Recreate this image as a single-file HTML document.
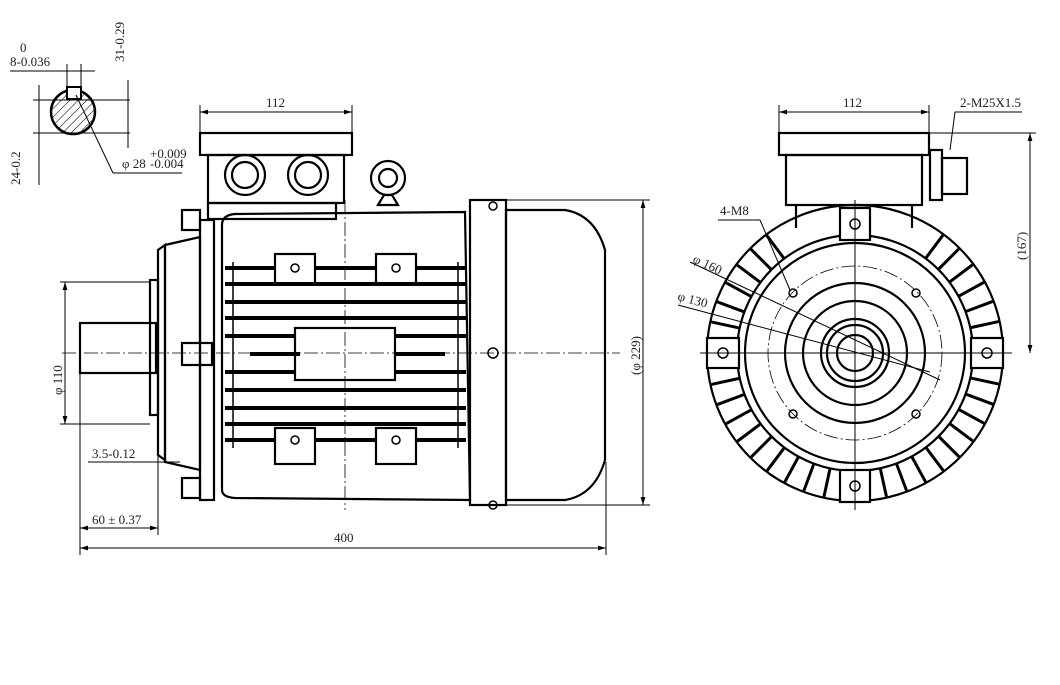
<!DOCTYPE html>
<html><head><meta charset="utf-8"><style>
html,body{margin:0;padding:0;background:#fff;}
svg{display:block;font-family:"Liberation Serif",serif;}
text{font-size:13px;fill:#222;}
</style></head><body>
<svg id="s" width="1060" height="685" viewBox="0 0 1060 685" xmlns="http://www.w3.org/2000/svg">
<defs>
<pattern id="h" width="6" height="6" patternUnits="userSpaceOnUse" patternTransform="rotate(45)"><line x1="0" y1="0" x2="0" y2="6" stroke="#000" stroke-width="1"/></pattern>
<marker id="a" viewBox="0 0 10 10" refX="10" refY="5" markerWidth="8" markerHeight="8" orient="auto-start-reverse"><path d="M0 2 L10 5 L0 8 Z" fill="#000"/></marker>
</defs>
<g fill="none" stroke="#000">
<circle cx="73" cy="112" r="22" stroke-width="2.5" fill="url(#h)"/>
<rect x="67" y="87" width="14" height="12" fill="#fff" stroke-width="2"/>
<line x1="33" y1="100" x2="130" y2="100" stroke-width="1"/>
<line x1="33" y1="133" x2="130" y2="133" stroke-width="1"/>
<line x1="128" y1="80" x2="128" y2="148" stroke-width="1"/>
<line x1="10" y1="71" x2="95" y2="71" stroke-width="1"/>
<line x1="67" y1="64" x2="67" y2="98"/><line x1="81" y1="64" x2="81" y2="98"/>
<line x1="39" y1="85" x2="39" y2="185"/>
<line x1="76" y1="95" x2="113" y2="173"/><line x1="113" y1="173" x2="182" y2="173"/>
<g stroke-width="2.2">
<rect x="80" y="323" width="76" height="50"/>
<rect x="150" y="280" width="8" height="135"/>
<path d="M158 250 L165 245 L165 460 L158 455 Z"/>
<path d="M165 245 L200 237 L200 470 L165 462 Z"/>
<rect x="200" y="220" width="14" height="280"/>
<rect x="182" y="210" width="18" height="20"/><rect x="182" y="478" width="18" height="20"/>
<rect x="182" y="343" width="30" height="22"/>
<path d="M222 225 Q222 215 235 214 L465 212 L470 500 L235 498 Q222 497 222 490 Z"/>
<rect x="200" y="133" width="152" height="22"/>
<rect x="208" y="155" width="136" height="48"/>
<rect x="208" y="203" width="128" height="16"/>
<circle cx="245" cy="175" r="20"/><circle cx="245" cy="175" r="13"/>
<circle cx="308" cy="175" r="20"/><circle cx="308" cy="175" r="13"/>
<circle cx="388" cy="178" r="17"/><circle cx="388" cy="178" r="9"/>
<path d="M378 205 L384 195 L392 195 L398 205 Z"/>
<rect x="470" y="200" width="36" height="305"/>
<path d="M506 210 L565 210 Q595 215 605 250 L605 460 Q595 495 565 500 L506 500 Z"/>
<rect x="295" y="328" width="100" height="52"/>
<rect x="275" y="254" width="40" height="30"/><rect x="376" y="254" width="40" height="30"/>
<rect x="275" y="428" width="40" height="36"/><rect x="376" y="428" width="40" height="36"/>
</g>
<g stroke-width="4">
<line x1="225" y1="284" x2="466" y2="284"/><line x1="225" y1="302" x2="466" y2="302"/>
<line x1="225" y1="318" x2="466" y2="318"/><line x1="225" y1="336" x2="295" y2="336"/>
<line x1="395" y1="336" x2="466" y2="336"/><line x1="225" y1="372" x2="295" y2="372"/>
<line x1="395" y1="372" x2="466" y2="372"/><line x1="225" y1="390" x2="466" y2="390"/>
<line x1="225" y1="408" x2="466" y2="408"/><line x1="225" y1="424" x2="466" y2="424"/>
<line x1="225" y1="268" x2="275" y2="268"/><line x1="315" y1="268" x2="376" y2="268"/><line x1="416" y1="268" x2="466" y2="268"/>
<line x1="225" y1="440" x2="275" y2="440"/><line x1="315" y1="440" x2="376" y2="440"/><line x1="416" y1="440" x2="466" y2="440"/>
<line x1="250" y1="354" x2="300" y2="354"/><line x1="395" y1="354" x2="445" y2="354"/>
</g>
<g stroke-width="1.5">
<line x1="233" y1="262" x2="233" y2="448"/><line x1="458" y1="262" x2="458" y2="448"/>
<circle cx="295" cy="268" r="4"/><circle cx="396" cy="268" r="4"/>
<circle cx="295" cy="440" r="4"/><circle cx="396" cy="440" r="4"/>
<circle cx="493" cy="353" r="5"/><circle cx="493" cy="206" r="4"/><circle cx="493" cy="505" r="4"/>
</g>
<line x1="62" y1="353" x2="620" y2="353" stroke-width="0.8" stroke-dasharray="14 3 2 3"/>
<line x1="345" y1="200" x2="345" y2="510" stroke-width="0.8" stroke-dasharray="14 3 2 3"/>
<g stroke-width="1">
<line x1="200" y1="112" x2="352" y2="112" marker-start="url(#a)" marker-end="url(#a)"/><line x1="200" y1="105" x2="200" y2="133"/><line x1="352" y1="105" x2="352" y2="133"/>
<line x1="65" y1="282" x2="65" y2="424" marker-start="url(#a)" marker-end="url(#a)"/><line x1="60" y1="282" x2="150" y2="282"/><line x1="60" y1="424" x2="150" y2="424"/>
<line x1="80" y1="373" x2="80" y2="555"/><line x1="606" y1="462" x2="606" y2="555"/>
<line x1="80" y1="548" x2="606" y2="548" marker-start="url(#a)" marker-end="url(#a)"/>
<line x1="80" y1="528" x2="158" y2="528" marker-start="url(#a)" marker-end="url(#a)"/><line x1="158" y1="455" x2="158" y2="535"/>
<line x1="88" y1="462" x2="180" y2="462"/>
<line x1="643" y1="200" x2="643" y2="505" marker-start="url(#a)" marker-end="url(#a)"/><line x1="505" y1="200" x2="650" y2="200"/><line x1="505" y1="505" x2="650" y2="505"/>
</g>
<g id="fins" stroke-width="3"></g>
<g stroke-width="2.2">
<rect x="779" y="133" width="150" height="22"/>
<rect x="786" y="155" width="136" height="50"/>
<line x1="796" y1="205" x2="796" y2="228"/><line x1="912" y1="205" x2="912" y2="228"/>
<rect x="930" y="150" width="12" height="50"/><rect x="942" y="158" width="25" height="36"/>
<circle cx="855" cy="353" r="148"/>
<circle cx="855" cy="353" r="118" fill="#fff"/>
<circle cx="855" cy="353" r="110"/>
<circle cx="855" cy="353" r="70"/>
<circle cx="855" cy="353" r="52"/>
<circle cx="855" cy="353" r="34"/>
<circle cx="855" cy="353" r="28"/>
<circle cx="855" cy="353" r="18"/>
<rect x="840" y="208" width="30" height="32" fill="#fff"/><rect x="840" y="470" width="30" height="32" fill="#fff"/>
<rect x="707" y="338" width="32" height="30" fill="#fff"/><rect x="971" y="338" width="32" height="30" fill="#fff"/>
</g>
<g stroke-width="1.5">
<circle cx="855" cy="224" r="5"/><circle cx="855" cy="486" r="5"/><circle cx="723" cy="353" r="5"/><circle cx="987" cy="353" r="5"/>
<circle cx="793" cy="293" r="4"/><circle cx="916" cy="293" r="4"/><circle cx="793" cy="414" r="4"/><circle cx="916" cy="414" r="4"/>
</g>
<circle cx="855" cy="353" r="87" stroke-width="0.8" stroke-dasharray="14 3 2 3"/>
<line x1="700" y1="353" x2="1012" y2="353" stroke-width="1"/>
<line x1="855" y1="200" x2="855" y2="510" stroke-width="1"/>
<g stroke-width="1">
<line x1="779" y1="112" x2="929" y2="112" marker-start="url(#a)" marker-end="url(#a)"/><line x1="779" y1="105" x2="779" y2="133"/><line x1="929" y1="105" x2="929" y2="133"/>
<line x1="955" y1="112" x2="1022" y2="112"/><line x1="955" y1="112" x2="950" y2="150"/>
<line x1="1030" y1="133" x2="1030" y2="353" marker-start="url(#a)" marker-end="url(#a)"/><line x1="929" y1="133" x2="1036" y2="133"/>
<line x1="718" y1="220" x2="760" y2="220"/><line x1="760" y1="220" x2="790" y2="290"/>
<line x1="690" y1="262" x2="940" y2="380"/>
<line x1="678" y1="305" x2="930" y2="372"/>
</g>
</g>
<g>
<text x="10" y="66">8-0.036</text><text x="20" y="52" font-size="9">0</text>
<text x="124" y="62" transform="rotate(-90 124 62)">31-0.29</text>
<text x="20" y="185" transform="rotate(-90 20 185)">24-0.2</text>
<text x="122" y="168">φ 28</text><text x="150" y="158" font-size="9">+0.009</text><text x="150" y="168" font-size="9">-0.004</text>
<text x="266" y="107">112</text>
<text x="62" y="395" transform="rotate(-90 62 395)">φ 110</text>
<text x="92" y="458">3.5-0.12</text>
<text x="92" y="524">60 ± 0.37</text>
<text x="334" y="542">400</text>
<text x="640" y="375" transform="rotate(-90 640 375)">(φ 229)</text>
<text x="843" y="107">112</text>
<text x="960" y="107">2-M25X1.5</text>
<text x="1026" y="260" transform="rotate(-90 1026 260)">(167)</text>
<text x="720" y="215">4-M8</text>
<text x="692" y="262" transform="rotate(25 692 262)">φ 160</text>
<text x="677" y="300" transform="rotate(15 677 300)">φ 130</text>
</g>
</svg>
<script>
var g=document.getElementById('fins'),ns='http://www.w3.org/2000/svg';
for(var i=0;i<44;i++){var a=i*Math.PI*2/44+0.07;if(a>Math.PI*1.3&&a<Math.PI*1.7)continue;
var l=document.createElementNS(ns,'line');
l.setAttribute('x1',855+118*Math.cos(a));l.setAttribute('y1',353+118*Math.sin(a));
l.setAttribute('x2',855+147*Math.cos(a));l.setAttribute('y2',353+147*Math.sin(a));g.appendChild(l);}
</script>
</body></html>
